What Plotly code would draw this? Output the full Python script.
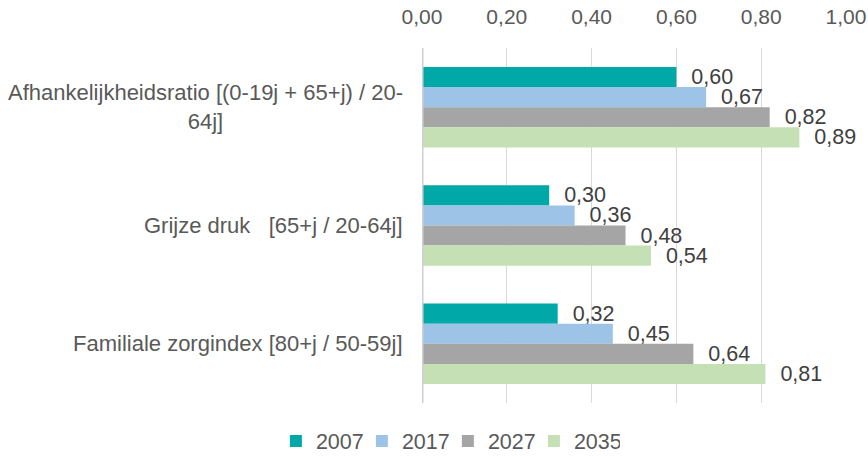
import plotly.graph_objects as go

categories = [
    "Afhankelijkheidsratio [(0-19j + 65+j) / 20-<br>64j]",
    "Grijze druk\u00a0\u00a0\u00a0[65+j / 20-64j]",
    "Familiale zorgindex [80+j / 50-59j]",
]
years = ["2007", "2017", "2027", "2035"]
values = {
    "2007": [0.60, 0.30, 0.32],
    "2017": [0.67, 0.36, 0.45],
    "2027": [0.82, 0.48, 0.64],
    "2035": [0.89, 0.54, 0.81],
}
colors = {"2007": "#00A9A8", "2017": "#9DC3E6", "2027": "#A5A5A5", "2035": "#C5E0B4"}
x_ticks = [0, 0.2, 0.4, 0.6, 0.8, 1.0]
x_ticklabels = ["0,00", "0,20", "0,40", "0,60", "0,80", "1,00"]

FONT = "Liberation Sans, Arial, sans-serif"

fig = go.Figure()
for yr in years:
    fig.add_trace(go.Bar(
        y=categories, x=values[yr], name=yr, orientation="h",
        marker=dict(color=colors[yr], line=dict(width=0)),
        text=[("\u00a0\u00a0" + f"{v:.2f}".replace(".", ",")) for v in values[yr]],
        textposition="outside", constraintext="none", cliponaxis=False,
        textfont=dict(family=FONT, size=21.5, color="#404040"),
    ))

for c in categories:
    fig.add_annotation(
        x=0, xref="paper", y=c, yref="y", text=c, showarrow=False,
        xanchor="right", yanchor="middle", align="center", xshift=-17,
        font=dict(family=FONT, size=22, color="#595959"),
    )

fig.update_layout(
    width=868, height=457,
    margin=dict(l=422, r=22, t=48, b=54, autoexpand=False),
    paper_bgcolor="white", plot_bgcolor="white",
    barmode="group", bargap=0.32, bargroupgap=0,
    font=dict(family=FONT, size=21, color="#595959"),
    showlegend=True,
    legend=dict(orientation="h", xref="container", x=0.516, xanchor="center",
                y=-0.107, yanchor="middle",
                font=dict(family=FONT, size=21.5, color="#595959"),
                itemwidth=30, entrywidth=41, entrywidthmode="pixels",
                traceorder="normal", itemclick=False),
    xaxis=dict(side="top", range=[0, 1.0], tickvals=x_ticks, ticktext=x_ticklabels,
               showgrid=True, gridcolor="#D9D9D9", gridwidth=1,
               zeroline=False, showline=False, ticks="", automargin=False,
               ticklabelstandoff=19,
               tickfont=dict(family=FONT, size=21, color="#595959")),
    yaxis=dict(autorange="reversed", showticklabels=False, showgrid=False,
               zeroline=False, showline=False, ticks="", automargin=False),
    shapes=[dict(type="line", xref="x", yref="paper", x0=0, x1=0, y0=0, y1=1,
                 line=dict(color="#D0D0D0", width=3))],
)

fig.write_html(
    "out.html",
    config={"displayModeBar": False},
    post_script="document.body.style.margin='0';document.body.style.overflow='hidden';",
)
